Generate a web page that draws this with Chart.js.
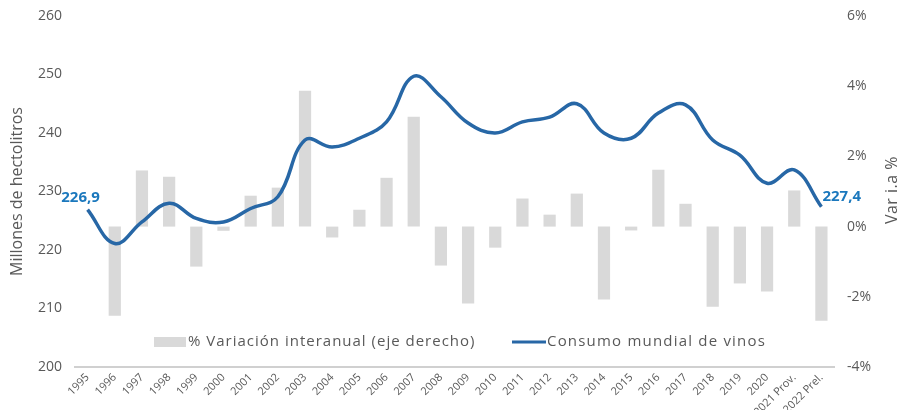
<!DOCTYPE html>
<html>
<head>
<meta charset="utf-8">
<script src="https://cdn.jsdelivr.net/npm/chart.js@4.4.1/dist/chart.umd.min.js"></script>
<style>
  html, body { margin: 0; padding: 0; background: #fff; }
  #wrap { position: relative; width: 899px; height: 410px; }
</style>
</head>
<body>
<div id="wrap"><canvas id="chart"></canvas></div>
<script>
// Consumo mundial de vinos - line (left axis) + % variation bars (right axis)

const years = ['1995', '1996', '1997', '1998', '1999', '2000', '2001', '2002', '2003', '2004',
    '2005', '2006', '2007', '2008', '2009', '2010', '2011', '2012', '2013', '2014',
    '2015', '2016', '2017', '2018', '2019', '2020', '2021 Prov.', '2022 Prel.'];

// millones de hectolitros
const consumo = [226.9, 221.1, 224.8, 228.0, 225.4, 224.8, 227.1, 229.1, 238.8, 237.6,
    239.1, 241.9, 249.7, 246.2, 241.7, 240.0, 241.9, 242.7, 245.0, 240.0,
    239.1, 243.4, 244.8, 238.8, 236.2, 231.4, 233.7, 227.4];

// % variación interanual
const variacion = [null, -2.54, 1.6, 1.42, -1.14, -0.12, 0.88, 1.11, 3.87, -0.31,
    0.48, 1.39, 3.13, -1.11, -2.19, -0.6, 0.8, 0.34, 0.94, -2.08,
    -0.11, 1.62, 0.65, -2.28, -1.62, -1.85, 1.03, -2.68];

const leftTicks = [200, 210, 220, 230, 240, 250, 260];
const rightTicks = [-4, -2, 0, 2, 4, 6];

const FONT = "'Open Sans', sans-serif";
const LINE_COLOR = '#2767a6';
const BAR_COLOR = '#d9d9d9';
const TEXT_COLOR = '#595959';

const ctx = document.getElementById('chart').getContext('2d');

// custom legend, value labels and right title
const extrasPlugin = {
    id: 'extras',
    afterDraw: function (chart) {
        const c = chart.ctx;
        c.save();

        // legend inside the plot area
        const ly = 342;
        c.fillStyle = BAR_COLOR;
        c.fillRect(154, ly - 5, 32, 10);
        c.font = '15px ' + FONT;
        c.letterSpacing = '1px';
        c.fillStyle = TEXT_COLOR;
        c.textAlign = 'left';
        c.textBaseline = 'middle';
        c.fillText('% Variación interanual (eje derecho)', 188, ly);

        c.strokeStyle = LINE_COLOR;
        c.lineWidth = 3;
        c.beginPath();
        c.moveTo(512, ly);
        c.lineTo(546, ly);
        c.stroke();
        c.letterSpacing = '1.2px';
        c.fillText('Consumo mundial de vinos', 547, ly);
        c.letterSpacing = '0px';

        // first / last value labels
        const meta = chart.getDatasetMeta(0);
        const first = meta.data[0];
        const last = meta.data[meta.data.length - 1];
        c.font = 'bold 15px ' + FONT;
        c.fillStyle = '#1b78bd';
        c.textAlign = 'center';
        c.fillText(consumo[0].toFixed(1).replace('.', ','), first.x - 7, first.y - 12);
        c.textAlign = 'left';
        c.fillText(consumo[consumo.length - 1].toFixed(1).replace('.', ','), last.x + 1, last.y - 10);

        // right axis title, reading upwards
        c.translate(892, 190);
        c.rotate(-Math.PI / 2);
        c.font = '16px ' + FONT;
        c.letterSpacing = '0.5px';
        c.fillStyle = TEXT_COLOR;
        c.textAlign = 'center';
        c.fillText('Var i.a %', 0, 0);
        c.restore();
    }
};

// fixed side widths, no extra vertical padding from the tick labels
function fitSide(width) {
    return function (scale) {
        scale.width = width;
        scale.paddingTop = 0;
        scale.paddingBottom = 0;
    };
}

new Chart(ctx, {
    data: {
        labels: years,
        datasets: [
            {
                type: 'line',
                label: 'Consumo mundial de vinos',
                data: consumo,
                yAxisID: 'y',
                borderColor: LINE_COLOR,
                borderWidth: 3.5,
                pointRadius: 0,
                tension: 0.4,
                fill: false,
                order: 0
            },
            {
                type: 'bar',
                label: '% Variación interanual (eje derecho)',
                data: variacion,
                yAxisID: 'y1',
                backgroundColor: BAR_COLOR,
                borderWidth: 0,
                barPercentage: 0.45,
                categoryPercentage: 1,
                order: 1
            }
        ]
    },
    options: {
        responsive: true,
        maintainAspectRatio: false,
        animation: false,
        layout: { padding: { top: 16, right: 0, bottom: 0, left: 0 } },
        plugins: {
            legend: { display: false },
            tooltip: { enabled: false }
        },
        scales: {
            x: {
                grid: { display: false, drawTicks: false },
                border: { display: false },
                ticks: {
                    font: { family: FONT, size: 11 },
                    color: TEXT_COLOR,
                    maxRotation: 45,
                    minRotation: 45,
                    autoSkip: false,
                    padding: 4
                },
                afterFit: function (scale) { scale.height = 43; }
            },
            y: {
                position: 'left',
                min: 200,
                max: 260,
                afterBuildTicks: function (scale) {
                    scale.ticks = leftTicks.map(function (v) { return { value: v }; });
                },
                grid: {
                    drawTicks: false,
                    color: function (c) { return c.tick.value === 200 ? '#d0d0d0' : 'transparent'; },
                    lineWidth: 2
                },
                border: { display: false },
                ticks: {
                    font: { family: FONT, size: 14 },
                    color: TEXT_COLOR,
                    padding: 12
                },
                title: {
                    display: true,
                    text: 'Millones de hectolitros',
                    font: { family: FONT, size: 16 },
                    color: TEXT_COLOR,
                    padding: { top: 8, bottom: 0 }
                },
                afterFit: fitSide(74)
            },
            y1: {
                position: 'right',
                min: -4,
                max: 6,
                afterBuildTicks: function (scale) {
                    scale.ticks = rightTicks.map(function (v) { return { value: v }; });
                },
                grid: { display: false, drawTicks: false },
                border: { display: false },
                ticks: {
                    font: { family: FONT, size: 14 },
                    color: TEXT_COLOR,
                    padding: 12,
                    callback: function (v) { return v + '%'; }
                },
                afterFit: fitSide(64)
            }
        }
    },
    plugins: [extrasPlugin]
});
</script>
</body>
</html>
